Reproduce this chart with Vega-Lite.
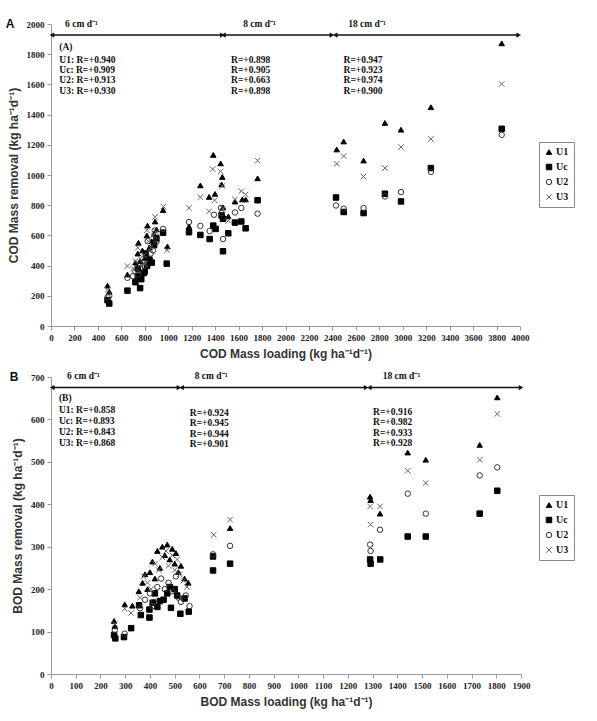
{
"$schema": "https://vega.github.io/schema/vega-lite/v6.json",
"background": "white",
"padding": {"left": 5, "top": 18, "right": 5, "bottom": 5},
"spacing": 12,
"config": {
 "view": {"stroke": null},
 "axis": {"domainColor": "#999", "tickColor": "#999", "tickSize": 4, "grid": false, "labelFont": "Liberation Serif", "labelFontWeight": "bold", "labelFontSize": 9, "labelColor": "#222", "titleFont": "Liberation Sans", "titleFontWeight": "bold", "titleFontSize": 12, "titleColor": "#333", "labelPadding": 3, "titlePadding": 6, "labelOverlap": false, "labelFlush": false},
 "legend": {"orient": "none", "legendX": 488, "legendY": 118, "strokeColor": "#888", "padding": 5, "rowPadding": 5, "labelFont": "Liberation Serif", "labelFontWeight": "bold", "labelFontSize": 10, "labelColor": "#111", "symbolSize": 30, "symbolStrokeWidth": 1, "labelOffset": 2}
},
"resolve": {"scale": {"x": "independent", "y": "independent", "shape": "independent", "fill": "independent", "stroke": "independent"}, "legend": {"shape": "independent", "fill": "independent", "stroke": "independent"}},
"vconcat": [
{
 "width": 469, "height": 302,
 "layer": [
  {
   "data": {"values": [
    {"s":"U1","x":482,"y":267},{"s":"U1","x":497,"y":227},{"s":"U1","x":652,"y":341},{"s":"U1","x":720,"y":420},{"s":"U1","x":740,"y":480},{"s":"U1","x":746,"y":551},{"s":"U1","x":760,"y":430},{"s":"U1","x":780,"y":500},{"s":"U1","x":800,"y":450},{"s":"U1","x":817,"y":600},{"s":"U1","x":823,"y":665},{"s":"U1","x":840,"y":520},{"s":"U1","x":860,"y":560},{"s":"U1","x":880,"y":610},{"s":"U1","x":888,"y":692},{"s":"U1","x":900,"y":640},{"s":"U1","x":956,"y":768},{"s":"U1","x":993,"y":527},
    {"s":"U1","x":1177,"y":659},{"s":"U1","x":1274,"y":931},{"s":"U1","x":1348,"y":855},{"s":"U1","x":1384,"y":1133},{"s":"U1","x":1399,"y":875},{"s":"U1","x":1447,"y":1077},{"s":"U1","x":1461,"y":987},{"s":"U1","x":1455,"y":938},{"s":"U1","x":1467,"y":786},{"s":"U1","x":1512,"y":726},{"s":"U1","x":1569,"y":824},{"s":"U1","x":1631,"y":838},{"s":"U1","x":1660,"y":838},{"s":"U1","x":1762,"y":978},
    {"s":"U1","x":2437,"y":1169},{"s":"U1","x":2496,"y":1222},{"s":"U1","x":2666,"y":1096},{"s":"U1","x":2848,"y":1345},{"s":"U1","x":2985,"y":1300},{"s":"U1","x":3240,"y":1449},{"s":"U1","x":3844,"y":1872},
    {"s":"Uc","x":482,"y":171},{"s":"Uc","x":497,"y":149},{"s":"Uc","x":652,"y":234},{"s":"Uc","x":720,"y":290},{"s":"Uc","x":740,"y":330},{"s":"Uc","x":760,"y":251},{"s":"Uc","x":770,"y":310},{"s":"Uc","x":790,"y":350},{"s":"Uc","x":800,"y":360},{"s":"Uc","x":809,"y":480},{"s":"Uc","x":820,"y":400},{"s":"Uc","x":840,"y":440},{"s":"Uc","x":860,"y":420},{"s":"Uc","x":880,"y":536},{"s":"Uc","x":899,"y":580},{"s":"Uc","x":956,"y":618},{"s":"Uc","x":987,"y":413},{"s":"Uc","x":740,"y":380},
    {"s":"Uc","x":1177,"y":621},{"s":"Uc","x":1274,"y":603},{"s":"Uc","x":1353,"y":576},{"s":"Uc","x":1384,"y":665},{"s":"Uc","x":1404,"y":643},{"s":"Uc","x":1455,"y":732},{"s":"Uc","x":1467,"y":710},{"s":"Uc","x":1467,"y":495},{"s":"Uc","x":1512,"y":614},{"s":"Uc","x":1569,"y":685},{"s":"Uc","x":1623,"y":692},{"s":"Uc","x":1660,"y":647},{"s":"Uc","x":1762,"y":833},
    {"s":"Uc","x":2431,"y":851},{"s":"Uc","x":2496,"y":755},{"s":"Uc","x":2666,"y":748},{"s":"Uc","x":2848,"y":876},{"s":"Uc","x":2985,"y":825},{"s":"Uc","x":3240,"y":1046},{"s":"Uc","x":3844,"y":1306},
    {"s":"U2","x":482,"y":190},{"s":"U2","x":497,"y":200},{"s":"U2","x":652,"y":319},{"s":"U2","x":700,"y":330},{"s":"U2","x":720,"y":360},{"s":"U2","x":740,"y":340},{"s":"U2","x":760,"y":380},{"s":"U2","x":780,"y":420},{"s":"U2","x":800,"y":400},{"s":"U2","x":825,"y":562},{"s":"U2","x":850,"y":480},{"s":"U2","x":870,"y":500},{"s":"U2","x":885,"y":632},{"s":"U2","x":900,"y":560},{"s":"U2","x":956,"y":643},
    {"s":"U2","x":1177,"y":688},{"s":"U2","x":1274,"y":663},{"s":"U2","x":1353,"y":629},{"s":"U2","x":1390,"y":737},{"s":"U2","x":1450,"y":782},{"s":"U2","x":1455,"y":748},{"s":"U2","x":1467,"y":576},{"s":"U2","x":1569,"y":752},{"s":"U2","x":1623,"y":782},{"s":"U2","x":1762,"y":744},
    {"s":"U2","x":2431,"y":798},{"s":"U2","x":2496,"y":777},{"s":"U2","x":2666,"y":781},{"s":"U2","x":2848,"y":858},{"s":"U2","x":2985,"y":887},{"s":"U2","x":3240,"y":1021},{"s":"U2","x":3844,"y":1266},
    {"s":"U3","x":482,"y":240},{"s":"U3","x":652,"y":397},{"s":"U3","x":700,"y":380},{"s":"U3","x":720,"y":430},{"s":"U3","x":740,"y":518},{"s":"U3","x":760,"y":446},{"s":"U3","x":790,"y":470},{"s":"U3","x":800,"y":410},{"s":"U3","x":817,"y":634},{"s":"U3","x":830,"y":560},{"s":"U3","x":850,"y":520},{"s":"U3","x":870,"y":600},{"s":"U3","x":888,"y":723},{"s":"U3","x":900,"y":620},{"s":"U3","x":959,"y":791},{"s":"U3","x":990,"y":502},
    {"s":"U3","x":1177,"y":782},{"s":"U3","x":1274,"y":853},{"s":"U3","x":1348,"y":759},{"s":"U3","x":1379,"y":1039},{"s":"U3","x":1396,"y":833},{"s":"U3","x":1447,"y":1023},{"s":"U3","x":1461,"y":927},{"s":"U3","x":1467,"y":777},{"s":"U3","x":1512,"y":697},{"s":"U3","x":1569,"y":838},{"s":"U3","x":1623,"y":893},{"s":"U3","x":1660,"y":871},{"s":"U3","x":1762,"y":1095},
    {"s":"U3","x":2437,"y":1074},{"s":"U3","x":2496,"y":1125},{"s":"U3","x":2666,"y":990},{"s":"U3","x":2848,"y":1046},{"s":"U3","x":2985,"y":1185},{"s":"U3","x":3240,"y":1239},{"s":"U3","x":3844,"y":1603}
   ]},
   "mark": {"type": "point", "size": 30, "strokeWidth": 1, "opacity": 1},
   "encoding": {
    "x": {"field": "x", "type": "quantitative", "scale": {"domain": [0, 4000], "nice": false}, "axis": {"values": [0,200,400,600,800,1000,1200,1400,1600,1800,2000,2200,2400,2600,2800,3000,3200,3400,3600,3800,4000], "labelOverlap": false, "labelFlush": false, "format": "d", "title": "COD Mass loading (kg ha⁻¹d⁻¹)"}},
    "y": {"field": "y", "type": "quantitative", "scale": {"domain": [0, 2000], "nice": false}, "axis": {"values": [0,200,400,600,800,1000,1200,1400,1600,1800,2000], "labelOverlap": false, "labelFlush": false, "format": "d", "title": "COD Mass removal (kg ha⁻¹d⁻¹)"}},
    "shape": {"field": "s", "type": "nominal", "scale": {"domain": ["U1","Uc","U2","U3"], "range": ["triangle-up","square","circle","M-1,-1L1,1M-1,1L1,-1"]}, "legend": {"title": null}},
    "fill": {"field": "s", "type": "nominal", "scale": {"domain": ["U1","Uc","U2","U3"], "range": ["#000","#000","transparent","transparent"]}, "legend": {"title": null}},
    "stroke": {"field": "s", "type": "nominal", "scale": {"domain": ["U1","Uc","U2","U3"], "range": ["#000","#000","#333","#666"]}, "legend": {"title": null}}
   }
  },
  {
   "data": {"values": [{"a": 8, "b": 1460}, {"a": 1471, "b": 2396}, {"a": 2424, "b": 3989}]},
   "mark": {"type": "rule", "color": "#111", "strokeWidth": 1.5},
   "encoding": {"x": {"field": "a", "type": "quantitative", "axis": {"values": [0,200,400,600,800,1000,1200,1400,1600,1800,2000,2200,2400,2600,2800,3000,3200,3400,3600,3800,4000], "labelOverlap": false, "labelFlush": false, "format": "d", "title": "COD Mass loading (kg ha⁻¹d⁻¹)"}}, "x2": {"field": "b"}, "y": {"datum": 1927, "type": "quantitative", "axis": {"values": [0,200,400,600,800,1000,1200,1400,1600,1800,2000], "labelOverlap": false, "labelFlush": false, "format": "d", "title": "COD Mass removal (kg ha⁻¹d⁻¹)"}}}
  },
  {
   "data": {"values": [{"a": 8, "b": 1460}, {"a": 1471, "b": 2396}, {"a": 2424, "b": 3989}]},
   "mark": {"type": "point", "shape": "triangle-left", "filled": true, "color": "#111", "size": 28, "opacity": 1},
   "encoding": {"x": {"field": "a", "type": "quantitative", "axis": {"values": [0,200,400,600,800,1000,1200,1400,1600,1800,2000,2200,2400,2600,2800,3000,3200,3400,3600,3800,4000], "labelOverlap": false, "labelFlush": false, "format": "d", "title": "COD Mass loading (kg ha⁻¹d⁻¹)"}}, "y": {"datum": 1927, "type": "quantitative", "axis": {"values": [0,200,400,600,800,1000,1200,1400,1600,1800,2000], "labelOverlap": false, "labelFlush": false, "format": "d", "title": "COD Mass removal (kg ha⁻¹d⁻¹)"}}}
  },
  {
   "data": {"values": [{"a": 8, "b": 1460}, {"a": 1471, "b": 2396}, {"a": 2424, "b": 3989}]},
   "mark": {"type": "point", "shape": "triangle-right", "filled": true, "color": "#111", "size": 28, "opacity": 1},
   "encoding": {"x": {"field": "b", "type": "quantitative", "axis": {"values": [0,200,400,600,800,1000,1200,1400,1600,1800,2000,2200,2400,2600,2800,3000,3200,3400,3600,3800,4000], "labelOverlap": false, "labelFlush": false, "format": "d", "title": "COD Mass loading (kg ha⁻¹d⁻¹)"}}, "y": {"datum": 1927, "type": "quantitative", "axis": {"values": [0,200,400,600,800,1000,1200,1400,1600,1800,2000], "labelOverlap": false, "labelFlush": false, "format": "d", "title": "COD Mass removal (kg ha⁻¹d⁻¹)"}}}
  },
  {
   "data": {"values": [
    {"x": 120, "y": 2000, "t": "6 cm d⁻¹"}, {"x": 1639, "y": 2000, "t": "8 cm d⁻¹"}, {"x": 2535, "y": 2000, "t": "18 cm d⁻¹"},
    {"x": 71, "y": 1850, "t": "(A)"},
    {"x": 71, "y": 1762, "t": "U1: R=+0.940"}, {"x": 71, "y": 1696, "t": "Uc: R=+0.909"}, {"x": 71, "y": 1628, "t": "U2: R=+0.913"}, {"x": 71, "y": 1557, "t": "U3: R=+0.930"},
    {"x": 1536, "y": 1762, "t": "R=+0.898"}, {"x": 1536, "y": 1696, "t": "R=+0.905"}, {"x": 1536, "y": 1628, "t": "R=+0.663"}, {"x": 1536, "y": 1557, "t": "R=+0.898"},
    {"x": 2495, "y": 1762, "t": "R=+0.947"}, {"x": 2495, "y": 1696, "t": "R=+0.923"}, {"x": 2495, "y": 1628, "t": "R=+0.974"}, {"x": 2495, "y": 1557, "t": "R=+0.900"}
   ]},
   "mark": {"type": "text", "align": "left", "baseline": "middle", "font": "Liberation Serif", "fontWeight": "bold", "fontSize": 9.5, "color": "#111"},
   "encoding": {"x": {"field": "x", "type": "quantitative", "axis": {"values": [0,200,400,600,800,1000,1200,1400,1600,1800,2000,2200,2400,2600,2800,3000,3200,3400,3600,3800,4000], "labelOverlap": false, "labelFlush": false, "format": "d", "title": "COD Mass loading (kg ha⁻¹d⁻¹)"}}, "y": {"field": "y", "type": "quantitative", "axis": {"values": [0,200,400,600,800,1000,1200,1400,1600,1800,2000], "labelOverlap": false, "labelFlush": false, "format": "d", "title": "COD Mass removal (kg ha⁻¹d⁻¹)"}}, "text": {"field": "t"}}
  },
  {
   "data": {"values": [{"x": -350, "y": 2000, "t": "A"}]},
   "mark": {"type": "text", "align": "center", "baseline": "middle", "font": "Liberation Sans", "fontWeight": "bold", "fontSize": 12, "color": "#111"},
   "encoding": {"x": {"field": "x", "type": "quantitative", "axis": {"values": [0,200,400,600,800,1000,1200,1400,1600,1800,2000,2200,2400,2600,2800,3000,3200,3400,3600,3800,4000], "labelOverlap": false, "labelFlush": false, "format": "d", "title": "COD Mass loading (kg ha⁻¹d⁻¹)"}}, "y": {"field": "y", "type": "quantitative", "axis": {"values": [0,200,400,600,800,1000,1200,1400,1600,1800,2000], "labelOverlap": false, "labelFlush": false, "format": "d", "title": "COD Mass removal (kg ha⁻¹d⁻¹)"}}, "text": {"field": "t"}}
  }
 ]
},
{
 "width": 470, "height": 297,
 "layer": [
  {
   "data": {"values": [
    {"s":"U1","x":255,"y":125},{"s":"U1","x":258,"y":113},{"s":"U1","x":298,"y":164},{"s":"U1","x":329,"y":161},{"s":"U1","x":355,"y":195},{"s":"U1","x":370,"y":215},{"s":"U1","x":380,"y":235},{"s":"U1","x":390,"y":200},{"s":"U1","x":400,"y":240},{"s":"U1","x":410,"y":265},{"s":"U1","x":420,"y":225},{"s":"U1","x":430,"y":290},{"s":"U1","x":440,"y":250},{"s":"U1","x":450,"y":300},{"s":"U1","x":460,"y":280},{"s":"U1","x":470,"y":305},{"s":"U1","x":480,"y":270},{"s":"U1","x":490,"y":295},{"s":"U1","x":500,"y":260},{"s":"U1","x":505,"y":285},{"s":"U1","x":515,"y":240},{"s":"U1","x":525,"y":255},{"s":"U1","x":540,"y":225},{"s":"U1","x":555,"y":215},
    {"s":"U1","x":724,"y":344},{"s":"U1","x":1290,"y":418},{"s":"U1","x":1292,"y":410},{"s":"U1","x":1330,"y":378},{"s":"U1","x":1442,"y":522},{"s":"U1","x":1515,"y":505},{"s":"U1","x":1733,"y":540},{"s":"U1","x":1804,"y":652},
    {"s":"Uc","x":255,"y":92},{"s":"Uc","x":260,"y":84},{"s":"Uc","x":295,"y":87},{"s":"Uc","x":324,"y":108},{"s":"Uc","x":356,"y":162},{"s":"Uc","x":363,"y":139},{"s":"Uc","x":398,"y":133},{"s":"Uc","x":398,"y":152},{"s":"Uc","x":411,"y":168},{"s":"Uc","x":420,"y":190},{"s":"Uc","x":430,"y":158},{"s":"Uc","x":440,"y":172},{"s":"Uc","x":455,"y":175},{"s":"Uc","x":470,"y":190},{"s":"Uc","x":480,"y":205},{"s":"Uc","x":485,"y":156},{"s":"Uc","x":500,"y":200},{"s":"Uc","x":510,"y":185},{"s":"Uc","x":523,"y":142},{"s":"Uc","x":540,"y":178},{"s":"Uc","x":557,"y":147},
    {"s":"Uc","x":655,"y":244},{"s":"Uc","x":655,"y":277},{"s":"Uc","x":724,"y":260},{"s":"Uc","x":1290,"y":270},{"s":"Uc","x":1292,"y":260},{"s":"Uc","x":1331,"y":270},{"s":"Uc","x":1442,"y":324},{"s":"Uc","x":1515,"y":324},{"s":"Uc","x":1733,"y":378},{"s":"Uc","x":1804,"y":432},
    {"s":"U2","x":258,"y":103},{"s":"U2","x":298,"y":95},{"s":"U2","x":360,"y":155},{"s":"U2","x":380,"y":175},{"s":"U2","x":400,"y":190},{"s":"U2","x":410,"y":160},{"s":"U2","x":415,"y":170},{"s":"U2","x":430,"y":205},{"s":"U2","x":445,"y":225},{"s":"U2","x":460,"y":200},{"s":"U2","x":475,"y":215},{"s":"U2","x":490,"y":195},{"s":"U2","x":505,"y":230},{"s":"U2","x":515,"y":180},{"s":"U2","x":525,"y":170},{"s":"U2","x":545,"y":185},{"s":"U2","x":560,"y":160},
    {"s":"U2","x":655,"y":282},{"s":"U2","x":724,"y":302},{"s":"U2","x":1290,"y":305},{"s":"U2","x":1292,"y":290},{"s":"U2","x":1330,"y":340},{"s":"U2","x":1442,"y":425},{"s":"U2","x":1515,"y":378},{"s":"U2","x":1733,"y":468},{"s":"U2","x":1804,"y":487},
    {"s":"U3","x":258,"y":118},{"s":"U3","x":298,"y":154},{"s":"U3","x":324,"y":144},{"s":"U3","x":360,"y":180},{"s":"U3","x":375,"y":230},{"s":"U3","x":390,"y":215},{"s":"U3","x":405,"y":200},{"s":"U3","x":420,"y":260},{"s":"U3","x":435,"y":245},{"s":"U3","x":450,"y":275},{"s":"U3","x":465,"y":290},{"s":"U3","x":475,"y":255},{"s":"U3","x":490,"y":280},{"s":"U3","x":500,"y":245},{"s":"U3","x":510,"y":270},{"s":"U3","x":520,"y":235},{"s":"U3","x":535,"y":220},{"s":"U3","x":550,"y":205},
    {"s":"U3","x":658,"y":328},{"s":"U3","x":724,"y":364},{"s":"U3","x":1290,"y":395},{"s":"U3","x":1292,"y":352},{"s":"U3","x":1330,"y":395},{"s":"U3","x":1442,"y":479},{"s":"U3","x":1515,"y":450},{"s":"U3","x":1733,"y":505},{"s":"U3","x":1804,"y":613}
   ]},
   "mark": {"type": "point", "size": 30, "strokeWidth": 1, "opacity": 1},
   "encoding": {
    "x": {"field": "x", "type": "quantitative", "scale": {"domain": [0, 1900], "nice": false}, "axis": {"values": [0,100,200,300,400,500,600,700,800,900,1000,1100,1200,1300,1400,1500,1600,1700,1800,1900], "labelOverlap": false, "labelFlush": false, "format": "d", "title": "BOD Mass loading (kg ha⁻¹d⁻¹)"}},
    "y": {"field": "y", "type": "quantitative", "scale": {"domain": [0, 700], "nice": false}, "axis": {"values": [0,100,200,300,400,500,600,700], "labelOverlap": false, "labelFlush": false, "format": "d", "title": "BOD Mass removal (kg ha⁻¹d⁻¹)"}},
    "shape": {"field": "s", "type": "nominal", "scale": {"domain": ["U1","Uc","U2","U3"], "range": ["triangle-up","square","circle","M-1,-1L1,1M-1,1L1,-1"]}, "legend": {"title": null}},
    "fill": {"field": "s", "type": "nominal", "scale": {"domain": ["U1","Uc","U2","U3"], "range": ["#000","#000","transparent","transparent"]}, "legend": {"title": null}},
    "stroke": {"field": "s", "type": "nominal", "scale": {"domain": ["U1","Uc","U2","U3"], "range": ["#000","#000","#333","#666"]}, "legend": {"title": null}}
   }
  },
  {
   "data": {"values": [{"a": 5, "b": 517}, {"a": 528, "b": 1274}, {"a": 1287, "b": 1900}]},
   "mark": {"type": "rule", "color": "#111", "strokeWidth": 1.5},
   "encoding": {"x": {"field": "a", "type": "quantitative", "axis": {"values": [0,100,200,300,400,500,600,700,800,900,1000,1100,1200,1300,1400,1500,1600,1700,1800,1900], "labelOverlap": false, "labelFlush": false, "format": "d", "title": "BOD Mass loading (kg ha⁻¹d⁻¹)"}}, "x2": {"field": "b"}, "y": {"datum": 675, "type": "quantitative", "axis": {"values": [0,100,200,300,400,500,600,700], "labelOverlap": false, "labelFlush": false, "format": "d", "title": "BOD Mass removal (kg ha⁻¹d⁻¹)"}}}
  },
  {
   "data": {"values": [{"a": 5, "b": 517}, {"a": 528, "b": 1274}, {"a": 1287, "b": 1900}]},
   "mark": {"type": "point", "shape": "triangle-left", "filled": true, "color": "#111", "size": 28, "opacity": 1},
   "encoding": {"x": {"field": "a", "type": "quantitative", "axis": {"values": [0,100,200,300,400,500,600,700,800,900,1000,1100,1200,1300,1400,1500,1600,1700,1800,1900], "labelOverlap": false, "labelFlush": false, "format": "d", "title": "BOD Mass loading (kg ha⁻¹d⁻¹)"}}, "y": {"datum": 675, "type": "quantitative", "axis": {"values": [0,100,200,300,400,500,600,700], "labelOverlap": false, "labelFlush": false, "format": "d", "title": "BOD Mass removal (kg ha⁻¹d⁻¹)"}}}
  },
  {
   "data": {"values": [{"a": 5, "b": 517}, {"a": 528, "b": 1274}, {"a": 1287, "b": 1900}]},
   "mark": {"type": "point", "shape": "triangle-right", "filled": true, "color": "#111", "size": 28, "opacity": 1},
   "encoding": {"x": {"field": "b", "type": "quantitative", "axis": {"values": [0,100,200,300,400,500,600,700,800,900,1000,1100,1200,1300,1400,1500,1600,1700,1800,1900], "labelOverlap": false, "labelFlush": false, "format": "d", "title": "BOD Mass loading (kg ha⁻¹d⁻¹)"}}, "y": {"datum": 675, "type": "quantitative", "axis": {"values": [0,100,200,300,400,500,600,700], "labelOverlap": false, "labelFlush": false, "format": "d", "title": "BOD Mass removal (kg ha⁻¹d⁻¹)"}}}
  },
  {
   "data": {"values": [
    {"x": 65, "y": 702, "t": "6 cm d⁻¹"}, {"x": 581, "y": 702, "t": "8 cm d⁻¹"}, {"x": 1341, "y": 702, "t": "18 cm d⁻¹"},
    {"x": 32, "y": 651, "t": "(B)"},
    {"x": 32, "y": 622, "t": "U1: R=+0.858"}, {"x": 32, "y": 596, "t": "Uc: R=+0.893"}, {"x": 32, "y": 571, "t": "U2: R=+0.843"}, {"x": 32, "y": 545, "t": "U3: R=+0.868"},
    {"x": 561, "y": 615, "t": "R=+0.924"}, {"x": 561, "y": 591, "t": "R=+0.945"}, {"x": 561, "y": 566, "t": "R=+0.944"}, {"x": 561, "y": 542, "t": "R=+0.901"},
    {"x": 1302, "y": 618, "t": "R=+0.916"}, {"x": 1302, "y": 593, "t": "R=+0.982"}, {"x": 1302, "y": 569, "t": "R=+0.933"}, {"x": 1302, "y": 544, "t": "R=+0.928"}
   ]},
   "mark": {"type": "text", "align": "left", "baseline": "middle", "font": "Liberation Serif", "fontWeight": "bold", "fontSize": 9.5, "color": "#111"},
   "encoding": {"x": {"field": "x", "type": "quantitative", "axis": {"values": [0,100,200,300,400,500,600,700,800,900,1000,1100,1200,1300,1400,1500,1600,1700,1800,1900], "labelOverlap": false, "labelFlush": false, "format": "d", "title": "BOD Mass loading (kg ha⁻¹d⁻¹)"}}, "y": {"field": "y", "type": "quantitative", "axis": {"values": [0,100,200,300,400,500,600,700], "labelOverlap": false, "labelFlush": false, "format": "d", "title": "BOD Mass removal (kg ha⁻¹d⁻¹)"}}, "text": {"field": "t"}}
  },
  {
   "data": {"values": [{"x": -149, "y": 700, "t": "B"}]},
   "mark": {"type": "text", "align": "center", "baseline": "middle", "font": "Liberation Sans", "fontWeight": "bold", "fontSize": 12, "color": "#111"},
   "encoding": {"x": {"field": "x", "type": "quantitative", "axis": {"values": [0,100,200,300,400,500,600,700,800,900,1000,1100,1200,1300,1400,1500,1600,1700,1800,1900], "labelOverlap": false, "labelFlush": false, "format": "d", "title": "BOD Mass loading (kg ha⁻¹d⁻¹)"}}, "y": {"field": "y", "type": "quantitative", "axis": {"values": [0,100,200,300,400,500,600,700], "labelOverlap": false, "labelFlush": false, "format": "d", "title": "BOD Mass removal (kg ha⁻¹d⁻¹)"}}, "text": {"field": "t"}}
  }
 ]
}
]
}
